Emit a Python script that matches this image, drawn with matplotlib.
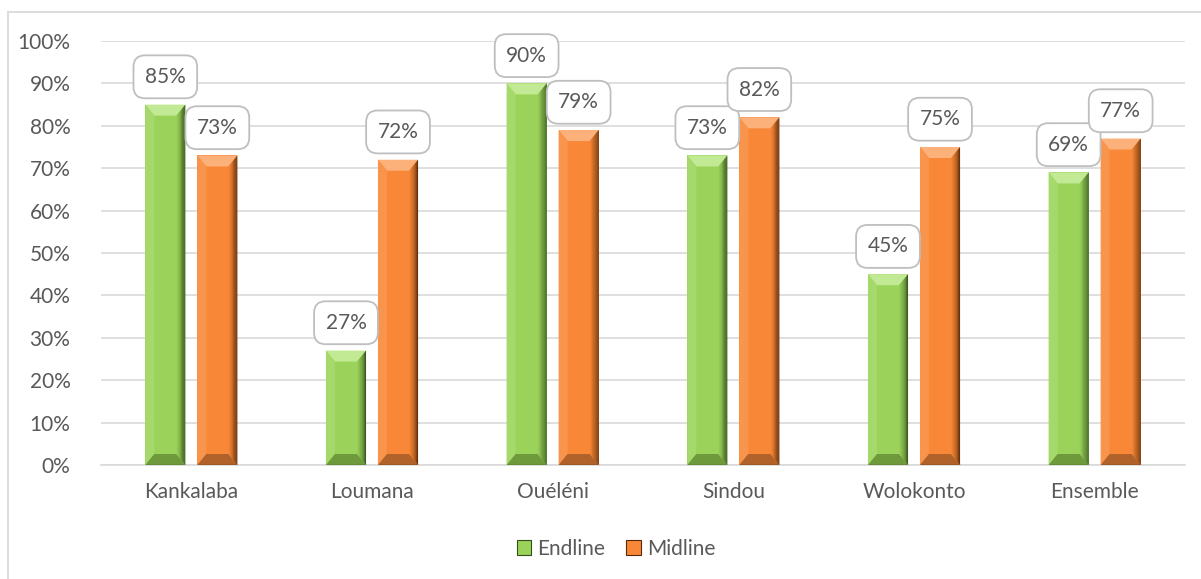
import numpy as np
import matplotlib.pyplot as plt
from matplotlib.patches import Polygon, Rectangle, Patch
from matplotlib.ticker import FuncFormatter

plt.rcParams['font.family'] = ['Lato', 'DejaVu Sans']

# taux par commune, endline vs midline (en %)
communes = ["Kankalaba", "Loumana", "Ouéléni", "Sindou", "Wolokonto", "Ensemble"]
endline = [85, 27, 90, 73, 45, 69]
midline = [73, 72, 79, 82, 75, 77]

W, H, DPI = 1201, 579, 100
fig = plt.figure(figsize=(W / DPI, H / DPI), dpi=DPI)

# cadre gris du graphique
fig.patches.append(Rectangle((8 / W, -0.1), 1.2, 1 - 12 / H + 0.1, transform=fig.transFigure,
                             fill=False, edgecolor="#D9D9D9", linewidth=1.3))

ax_l, ax_r, ax_b, ax_t = 101, 1185, 114, 538
ax = fig.add_axes([ax_l / W, ax_b / H, (ax_r - ax_l) / W, (ax_t - ax_b) / H])

x = np.arange(len(communes))
bw = 0.222
off = 0.144
ax.set_xlim(-0.5, len(communes) - 0.5)
ax.set_ylim(0, 100)

# pixels par unité, pour dessiner le biseau en taille fixe
px_x = (ax_r - ax_l) / len(communes)
px_y = (ax_t - ax_b) / 100.0


def mix(c1, c2, t):
    c1 = np.array(plt.matplotlib.colors.to_rgb(c1))
    c2 = np.array(plt.matplotlib.colors.to_rgb(c2))
    return tuple(c1 * (1 - t) + c2 * t)


def bar_biseau(xc, v, face, clair, fonce, bas):
    x0, x1 = xc - bw / 2, xc + bw / 2
    bx = 9 / px_x
    by = 11 / px_y
    ax.bar(xc, v, bw, color=face, zorder=2)
    # bord haut, plus clair
    ax.add_patch(Polygon([(x0, v), (x1, v), (x1 - bx, v - by), (x0 + bx, v - by)],
                         closed=True, facecolor=clair, edgecolor="none", zorder=3))
    # bord gauche
    ax.add_patch(Polygon([(x0, 0), (x0 + bx, by), (x0 + bx, v - by), (x0, v)],
                         closed=True, facecolor=mix(face, clair, 0.3), edgecolor="none", zorder=3))
    # bord bas
    ax.add_patch(Polygon([(x0, 0), (x1, 0), (x1 - bx, by), (x0 + bx, by)],
                         closed=True, facecolor=bas, edgecolor="none", zorder=3))
    # bord droit en dégradé vers le foncé
    n = 8
    for i in range(n):
        a, b = i / n, (i + 1) / n
        xa = x1 - bx + a * bx
        xb = x1 - bx + b * bx
        ya_lo, yb_lo = by * (1 - a), by * (1 - b)
        ax.add_patch(Polygon([(xa, ya_lo), (xb, yb_lo), (xb, v - yb_lo), (xa, v - ya_lo)],
                             closed=True, facecolor=mix(face, fonce, ((i + 0.5) / n) ** 1.3),
                             edgecolor="none", zorder=3))
    ax.plot([x0, x1], [0, 0], color=fonce, lw=1, zorder=4, solid_capstyle="butt")


vert = dict(face="#9AD25A", clair="#C2EA94", fonce="#34501A", bas="#6F9A3C")
orange = dict(face="#F88838", clair="#FCB07A", fonce="#5A2A08", bas="#B0622A")

for i in range(len(communes)):
    bar_biseau(x[i] - off, endline[i], **vert)
    bar_biseau(x[i] + off, midline[i], **orange)

# étiquettes de valeur dans des cadres arrondis
for xs, vals in ((x - off, endline), (x + off, midline)):
    for xi, v in zip(xs, vals):
        ax.annotate(f"{v}%", (xi, v), xytext=(0, 20), textcoords="offset points",
                    ha="center", va="center", fontsize=15, color="#595959", zorder=6,
                    bbox=dict(boxstyle="round,pad=0.55,rounding_size=0.55", fc="white",
                              ec="#BFBFBF", lw=1.3))

ax.set_yticks(np.arange(0, 101, 10))
ax.yaxis.set_major_formatter(FuncFormatter(lambda v, p: f"{v:.0f}%"))
ax.set_xticks(x)
ax.set_xticklabels(communes)
ax.tick_params(axis="both", length=0, labelsize=15, labelcolor="#595959")
ax.tick_params(axis="x", pad=12)
ax.tick_params(axis="y", pad=22)
ax.grid(axis="y", color="#D9D9D9", lw=1.2, zorder=0)
ax.set_axisbelow(True)
for s in ["top", "right", "left"]:
    ax.spines[s].set_visible(False)
ax.spines["bottom"].set_color("#D9D9D9")
ax.spines["bottom"].set_linewidth(1.2)

handles = [Patch(facecolor=vert["face"], edgecolor=vert["fonce"], lw=0.8, label="Endline"),
           Patch(facecolor=orange["face"], edgecolor=orange["fonce"], lw=0.8, label="Midline")]
fig.legend(handles=handles, loc="center", bbox_to_anchor=(616 / W, 1 - 549 / H), ncol=2,
           frameon=False, fontsize=15, labelcolor="#595959", handlelength=0.7,
           handleheight=0.7, handletextpad=0.3, columnspacing=1.0)

fig.savefig("out.png", dpi=DPI)
